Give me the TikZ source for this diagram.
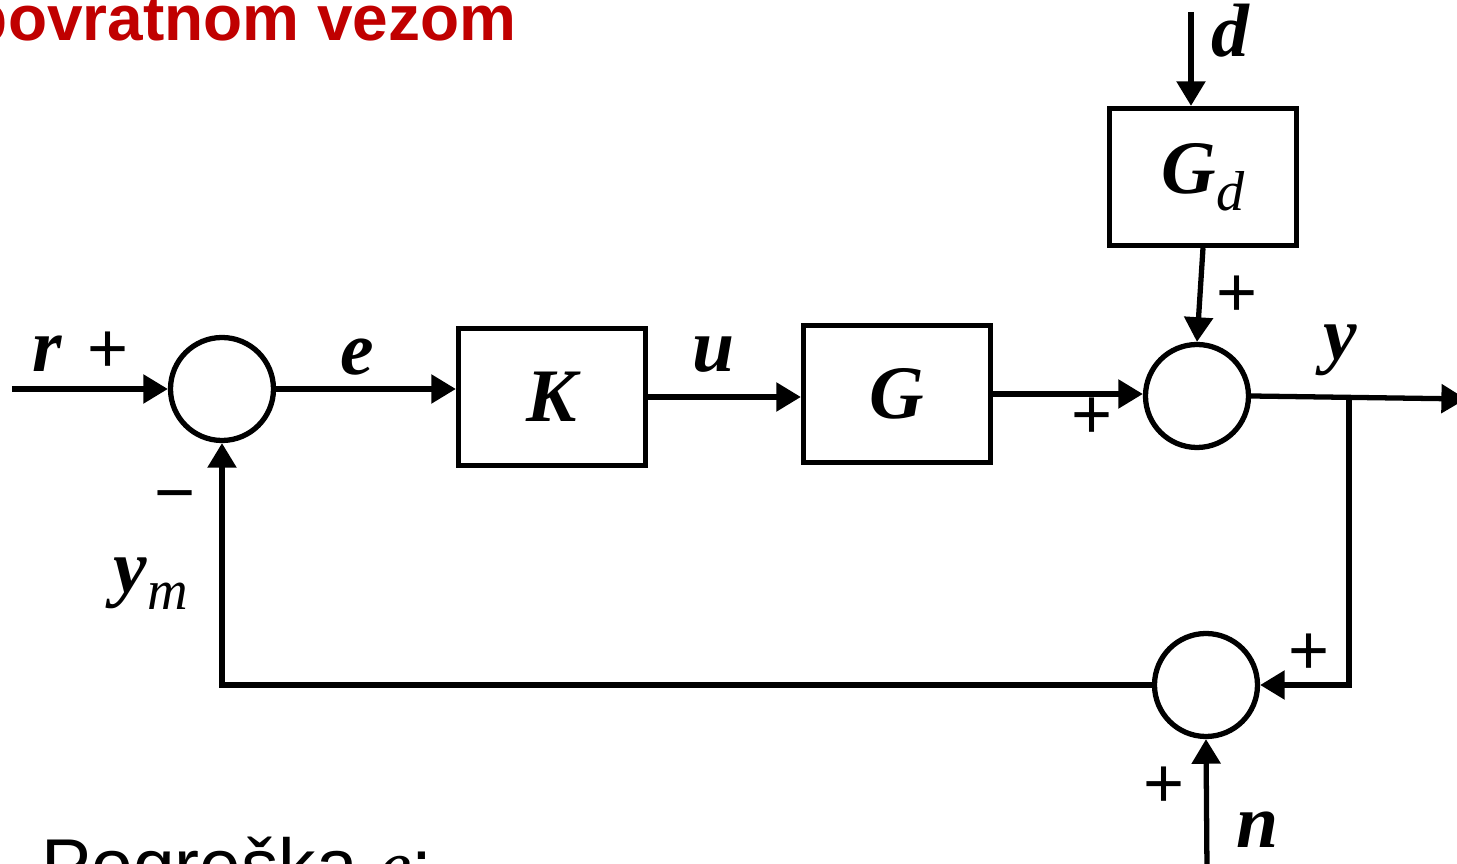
\documentclass[tikz,border=0pt]{standalone}
\usepackage{fontspec}
\setmainfont{Liberation Serif}
\setsansfont{Liberation Sans}
\usetikzlibrary{arrows.meta}
\definecolor{naslovcrvena}{HTML}{C00000}

\tikzset{
  blok/.style={draw, line width=1.5pt, minimum width=1.87cm, minimum height=1.37cm, inner sep=0pt,
    font=\fontsize{21.5}{21.5}\selectfont\bfseries\itshape},
  zbroj/.style={draw, circle, line width=1.5pt, minimum size=1.03cm, inner sep=0pt},
  veza/.style={line width=1.5pt, -{Triangle[length=7pt,width=8pt]}},
  linija/.style={line width=1.5pt},
  signal/.style={inner sep=0pt, anchor=base, font=\fontsize{21.5}{21.5}\selectfont\bfseries\itshape},
  predznak/.style={inner sep=0pt, font=\fontsize{20}{20}\selectfont\sffamily},
}
\def\indeks#1{\raisebox{-0.22em}{\fontsize{16}{16}\selectfont\mdseries\itshape #1}}

\begin{document}
\begin{tikzpicture}
		%%%%% START %%%%%
		\useasboundingbox (0,0) rectangle (14.57,-8.64);
		\clip (0,0) rectangle (14.57,-8.64);
		
		% naslov i tekst ispod sheme
		\node[anchor=base east, inner sep=0pt, text=naslovcrvena,
		  font=\fontsize{18.2}{18.2}\selectfont\sffamily\bfseries] (naslov) at (5.17,-0.41) {povratnom vezom};
		\node[anchor=base west, inner sep=0pt, font=\fontsize{21.3}{21.3}\selectfont\sffamily] (pogreska)
		  at (0.41,-8.92) {Pogreška {\rmfamily\itshape e}:};
		
		% zbrajala i blokovi
		\node[zbroj] (s1) at (2.22,-3.89) {};
		\node[blok] (K) at (5.52,-3.97) {K\hspace{0.15cm}};
		\node[blok] (G) at (8.97,-3.94) {G};
		\node[zbroj] (s2) at (11.97,-3.96) {};
		\node[blok] (Gd) at (12.03,-1.77) {G\indeks{d}\hspace{0.2cm}};
		\node[zbroj] (s3) at (12.06,-6.85) {};
		
		% slobodni krajevi
		\coordinate (rul) at (0.12,-3.89);
		\coordinate (dul) at (11.91,-0.12);
		\coordinate (nul) at (12.07,-8.70);
		\coordinate (yiz) at (14.66,-3.99);
		\coordinate (grana) at (13.49,-3.99);
		
		% direktna grana
		\draw[veza] (rul) -- (s1.west);
		\draw[veza] (s1.east) -- (s1.east -| K.west);
		\draw[veza] (K.east) -- (K.east -| G.west);
		\draw[veza] (G.east) -- (G.east -| s2.west);
		\draw[veza] (s2.east) -- (yiz);
		
		% poremecaj
		\draw[veza] (dul) -- (dul |- Gd.north);
		\draw[veza] (Gd.south) -- (s2.north);
		
		% povratna veza i mjerni sum
		\draw[veza] (grana) |- (s3.east);
		\draw[veza] (nul) -- (s3.south);
		\draw[veza] (s3.west) -| (s1.south);
		
		% signali
		\node[signal] (r) at (0.47,-3.72) {r};
		\node[signal] (e) at (3.57,-3.75) {e};
		\node[signal] (u) at (7.14,-3.72) {u};
		\node[signal] (d) at (12.30,-0.57) {d};
		\node[signal] (y) at (13.40,-3.60) {y};
		\node[signal] (n) at (12.58,-8.48) {n};
		\node[signal, anchor=base west] (ym) at (1.13,-5.93) {y\indeks{m}};
		
		% predznaci
		\node[predznak] (p1) at (1.08,-3.52) {+};
		\node[predznak] (m1) at (1.75,-5.04) {−};
		\node[predznak] (p2) at (12.37,-2.96) {+};
		\node[predznak] (p3) at (10.92,-4.18) {+};
		\node[predznak] (p4) at (13.09,-6.54) {+};
		\node[predznak] (p5) at (11.64,-7.87) {+};
		%%%%% END %%%%%
\end{tikzpicture}
\end{document}
